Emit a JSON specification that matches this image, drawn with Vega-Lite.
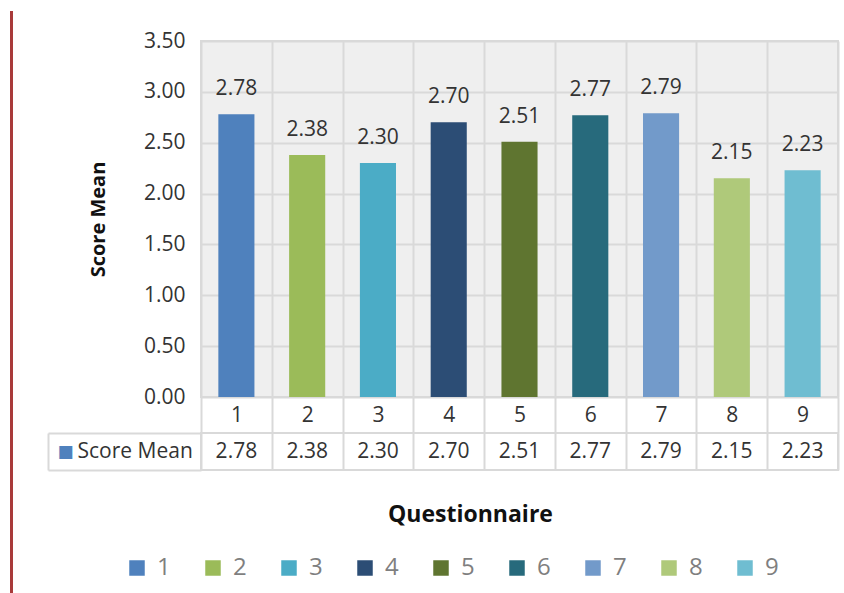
{
  "$schema": "https://vega.github.io/schema/vega-lite/v6.json",
  "padding": {"left": 10, "top": 11, "right": 0, "bottom": 0},
  "background": "white",
  "config": {
    "font": "Open Sans",
    "text": {"font": "Open Sans", "color": "#333333"},
    "axis": {"labelFont": "Open Sans", "titleFont": "Open Sans", "labelColor": "#333333", "titleColor": "#111111"},
    "legend": {"labelFont": "Open Sans"}
  },
  "data": {
    "values": [
      {"q": 1, "score": 2.78, "series": "Score Mean"},
      {"q": 2, "score": 2.38, "series": "Score Mean"},
      {"q": 3, "score": 2.30, "series": "Score Mean"},
      {"q": 4, "score": 2.70, "series": "Score Mean"},
      {"q": 5, "score": 2.51, "series": "Score Mean"},
      {"q": 6, "score": 2.77, "series": "Score Mean"},
      {"q": 7, "score": 2.79, "series": "Score Mean"},
      {"q": 8, "score": 2.15, "series": "Score Mean"},
      {"q": 9, "score": 2.23, "series": "Score Mean"}
    ]
  },
  "spacing": 36,
  "bounds": "flush",
  "vconcat": [
    {
      "width": 637,
      "height": 356,
      "view": {"fill": "#efefef", "stroke": "#d9d9d9", "strokeWidth": 2},
      "encoding": {
        "x": {
          "field": "q",
          "type": "ordinal",
          "scale": {"paddingInner": 0, "paddingOuter": 0},
          "axis": {
            "title": null,
            "labelAngle": 0,
            "labelFontSize": 21,
            "labelBaseline": "middle",
            "labelPadding": -18,
            "tickBand": "extent",
            "tickSize": 36,
            "tickColor": "#d9d9d9",
            "tickWidth": 2,
            "domain": false,
            "grid": true,
            "gridColor": "#d9d9d9",
            "gridWidth": 2
          }
        },
        "y": {
          "field": "score",
          "type": "quantitative",
          "scale": {"domain": [0, 3.5], "nice": false},
          "axis": {
            "title": "Score Mean",
            "values": [0, 0.5, 1, 1.5, 2, 2.5, 3, 3.5],
            "format": ".2f",
            "labelFontSize": 21,
            "labelPadding": 16,
            "ticks": false,
            "domain": false,
            "gridColor": "#d9d9d9",
            "gridWidth": 2,
            "titleFontSize": 20,
            "titleFontWeight": "bold",
            "titlePadding": 35
          }
        }
      },
      "layer": [
        {
          "mark": {"type": "bar", "width": {"band": 0.51}},
          "encoding": {
            "color": {
              "field": "q",
              "type": "nominal",
              "scale": {
                "domain": [1, 2, 3, 4, 5, 6, 7, 8, 9],
                "range": ["#4F81BD", "#9BBB59", "#4BACC6", "#2C4D75", "#5F7530", "#276A7C", "#729ACA", "#AFC97A", "#6FBDD1"]
              },
              "legend": {
                "orient": "none",
                "legendX": -76,
                "legendY": 515,
                "direction": "horizontal",
                "title": null,
                "symbolType": "square",
                "symbolSize": 240,
                "symbolStrokeWidth": 0,
                "labelFontSize": 24,
                "labelColor": "#7f7f7f",
                "labelOffset": 8,
                "columnPadding": 30
              }
            }
          }
        },
        {
          "mark": {"type": "text", "dy": -19, "baseline": "alphabetic", "fontSize": 21},
          "encoding": {
            "text": {"field": "score", "type": "quantitative", "format": ".2f"}
          }
        }
      ]
    },
    {
      "width": 637,
      "height": 37,
      "view": {"fill": "white", "stroke": "#d9d9d9", "strokeWidth": 2},
      "encoding": {
        "x": {
          "field": "q",
          "type": "ordinal",
          "scale": {"paddingInner": 0, "paddingOuter": 0},
          "axis": {
            "title": "Questionnaire",
            "labels": false,
            "ticks": false,
            "domain": false,
            "grid": true,
            "tickBand": "extent",
            "gridColor": "#d9d9d9",
            "gridWidth": 2,
            "titlePadding": 33,
            "titleFontSize": 23,
            "titleFontWeight": "bold",
            "titleX": 269
          }
        }
      },
      "layer": [
        {
          "mark": {"type": "text", "fontSize": 21},
          "encoding": {
            "text": {"field": "score", "type": "quantitative", "format": ".2f"},
            "y": {
              "field": "series",
              "type": "nominal",
              "scale": {"paddingInner": 0, "paddingOuter": 0},
              "axis": {
                "orient": "left",
                "title": null,
                "tickBand": "extent",
                "tickSize": 153,
                "tickColor": "#d9d9d9",
                "tickWidth": 2,
                "domain": false,
                "labelAlign": "left",
                "labelPadding": -29,
                "labelFontSize": 21
              }
            }
          }
        },
        {
          "mark": {"type": "text", "text": ""},
          "encoding": {
            "y": {
              "field": "series",
              "type": "nominal",
              "axis": {
                "orient": "left",
                "offset": 153,
                "title": null,
                "ticks": false,
                "domain": true,
                "domainColor": "#d9d9d9",
                "domainWidth": 2,
                "labelExpr": "'■'",
                "labelFont": "DejaVu Sans",
                "labelFontSize": 17,
                "labelColor": "#4F81BD",
                "labelAlign": "left",
                "labelPadding": -9
              }
            },
            "fill": {
              "field": "score",
              "type": "quantitative",
              "scale": {"range": ["#a83a3a", "#a83a3a"]},
              "legend": {
                "orient": "none",
                "legendX": -191,
                "legendY": -30,
                "direction": "vertical",
                "title": null,
                "labelExpr": "''",
                "labelFontSize": 1,
                "gradientLength": 582,
                "gradientThickness": 3,
                "gradientStrokeWidth": 0
              }
            }
          }
        }
      ],
      "resolve": {"axis": {"y": "independent"}}
    }
  ]
}
